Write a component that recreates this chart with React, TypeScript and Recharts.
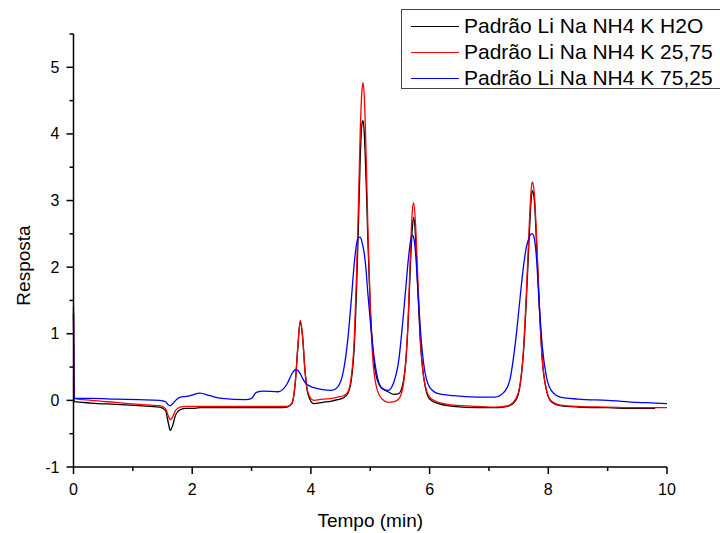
import { LineChart, Line, XAxis, YAxis, Legend } from 'recharts'

// tempo de retenção (min)
const tempo = [
  0, 0.01, 0.3, 0.7, 1.1, 1.45, 1.55, 1.6, 1.63, 1.67, 1.72, 1.8, 1.9, 2.0, 2.13, 2.3, 2.5, 2.9,
  3.0, 3.08, 3.2, 3.45, 3.6, 3.68, 3.74, 3.78, 3.82, 3.86, 3.9, 3.95, 4.05, 4.2, 4.35, 4.45,
  4.55, 4.62, 4.68, 4.73, 4.77, 4.8, 4.83, 4.86, 4.88, 4.9, 4.93, 4.96, 5.0, 5.05, 5.12, 5.2,
  5.3, 5.4, 5.48, 5.55, 5.6, 5.64, 5.68, 5.71, 5.73, 5.76, 5.8, 5.85, 5.9, 6.0, 6.15, 6.4,
  6.8, 7.1, 7.25, 7.35, 7.45, 7.52, 7.58, 7.63, 7.68, 7.71, 7.73, 7.76, 7.8, 7.85, 7.9, 7.97,
  8.05, 8.2, 8.5, 9.0, 9.5, 9.8, 10.0,
]

const h2o = [
  1.4, -0.02, -0.04, -0.06, -0.08, -0.1, -0.15, -0.35, -0.45, -0.38, -0.22, -0.14, -0.12, -0.12, -0.11, -0.11, -0.11, -0.11,
  -0.11, -0.11, -0.11, -0.11, -0.1, -0.05, 0.3, 0.8, 1.18, 0.95, 0.45, 0.1, -0.05, -0.03, -0.01, 0.01,
  0.04, 0.1, 0.3, 0.8, 1.7, 2.6, 3.6, 4.15, 4.2, 4.0, 3.3, 2.4, 1.4, 0.7, 0.3, 0.18,
  0.13, 0.09, 0.1, 0.25, 0.6, 1.2, 2.1, 2.6, 2.75, 2.5, 1.7, 0.8, 0.35, 0.02, -0.05, -0.09,
  -0.11, -0.11, -0.1, -0.08, 0.0, 0.2, 0.7, 1.5, 2.5, 3.0, 3.15, 3.05, 2.4, 1.4, 0.6, 0.15,
  -0.02, -0.08, -0.1, -0.11, -0.12, -0.12, null,
]

const p2575 = [
  1.3, 0.03, 0.0, -0.03, -0.06, -0.08, -0.12, -0.24, -0.29, -0.25, -0.15, -0.1, -0.09, -0.09, -0.09, -0.09, -0.09, -0.09,
  -0.09, -0.09, -0.09, -0.09, -0.09, -0.04, 0.3, 0.8, 1.2, 0.97, 0.45, 0.12, 0.0, 0.02, 0.03, 0.05,
  0.07, 0.12, 0.35, 0.9, 1.9, 2.9, 4.0, 4.65, 4.77, 4.55, 3.7, 2.6, 1.4, 0.55, 0.15, 0.02,
  -0.03, -0.02, 0.02, 0.2, 0.6, 1.25, 2.3, 2.85, 2.97, 2.7, 1.85, 0.85, 0.35, 0.05, -0.03, -0.07,
  -0.09, -0.1, -0.09, -0.07, 0.02, 0.22, 0.75, 1.6, 2.65, 3.15, 3.28, 3.15, 2.5, 1.4, 0.6, 0.15,
  -0.01, -0.07, -0.09, -0.1, -0.11, -0.11, -0.11,
]

const p7525 = [
  1.3, 0.03, 0.03, 0.02, 0.01, 0.0, -0.02, -0.07, -0.08, -0.05, 0.0, 0.05, 0.06, 0.08, 0.11, 0.07, 0.03, 0.01,
  0.03, 0.12, 0.14, 0.13, 0.25, 0.4, 0.46, 0.45, 0.4, 0.33, 0.27, 0.23, 0.19, 0.16, 0.15, 0.2,
  0.45, 0.9, 1.5, 2.05, 2.35, 2.44, 2.45, 2.38, 2.3, 2.2, 1.95, 1.6, 1.2, 0.75, 0.35, 0.18,
  0.15, 0.28, 0.6, 1.2, 1.7, 2.1, 2.4, 2.48, 2.45, 2.25, 1.7, 1.0, 0.55, 0.2, 0.1, 0.07,
  0.05, 0.05, 0.12, 0.3, 0.9, 1.5, 2.0, 2.3, 2.45, 2.5, 2.5, 2.45, 2.15, 1.4, 0.8, 0.35,
  0.15, 0.05, 0.02, 0.0, -0.03, -0.04, -0.05,
]

const seriesNames = ['Padrão Li Na NH4 K H2O', 'Padrão Li Na NH4 K 25,75', 'Padrão Li Na NH4 K 75,25']

const xTicks = [0, 1, 2, 3, 4, 5, 6, 7, 8, 9, 10]
const yTicks = [-1, -0.5, 0, 0.5, 1, 1.5, 2, 2.5, 3, 3.5, 4, 4.5, 5, 5.5]

const data = tempo.map((t, i) => ({ t, h2o: h2o[i], p2575: p2575[i], p7525: p7525[i] }))

const font = '"Liberation Sans", Arial, sans-serif'

function YTick({ x, y, payload }: any) {
  const major = Number.isInteger(payload.value)
  return (
    <g>
      <line x1={x} x2={x - (major ? 7 : 4)} y1={y} y2={y} stroke="#000" strokeWidth={1.5} />
      {major && (
        <text x={x - 14} y={y} dy={5.5} textAnchor="end" fontSize={16} fill="#000" fontFamily={font}>
          {payload.value}
        </text>
      )}
    </g>
  )
}

function XTick({ x, y, payload }: any) {
  const major = payload.value % 2 === 0
  return (
    <g>
      <line x1={x} x2={x} y1={y} y2={y + (major ? 7 : 4)} stroke="#000" strokeWidth={1.5} />
      {major && (
        <text x={x} y={y + 28} textAnchor="middle" fontSize={16} fill="#000" fontFamily={font}>
          {payload.value}
        </text>
      )}
    </g>
  )
}

function LegendBox({ payload }: any) {
  const items = [...(payload || [])].sort(
    (a: any, b: any) => seriesNames.indexOf(a.value) - seriesNames.indexOf(b.value)
  )
  return (
    <div
      style={{
        border: '1px solid #444',
        width: 340,
        height: 80,
        padding: '3px 0 0 9px',
        boxSizing: 'border-box',
        background: '#fff',
        fontFamily: font,
        fontSize: 21,
      }}
    >
      {items.map((p: any) => (
        <div key={p.value} style={{ display: 'flex', alignItems: 'center', height: 26 }}>
          <span style={{ display: 'inline-block', width: 48, borderTop: `1px solid ${p.color}`, marginRight: 5 }} />
          <span style={{ color: '#000', lineHeight: '26px' }}>{p.value}</span>
        </div>
      ))}
    </div>
  )
}

export default function App() {
  return (
    <div style={{ position: 'absolute', left: 0, top: 0, width: 720, height: 533, overflow: 'hidden', background: '#fff' }}>
      <LineChart width={720} height={533} data={data} margin={{ top: 34, right: 53, bottom: 0, left: 0 }}>
        <XAxis
          dataKey="t"
          type="number"
          domain={[0, 10]}
          ticks={xTicks}
          height={66}
          tickSize={0}
          tickMargin={0}
          tickLine={false}
          tick={XTick}
          axisLine={{ stroke: '#000', strokeWidth: 1.5 }}
          label={{
            content: ({ viewBox }: any) => (
              <text
                x={viewBox.x + viewBox.width / 2}
                y={viewBox.y + 60}
                textAnchor="middle"
                fontSize={19}
                fontFamily={font}
                fill="#000"
              >
                Tempo (min)
              </text>
            ),
          }}
        />
        <YAxis
          type="number"
          domain={[-1, 5.5]}
          ticks={yTicks}
          width={73.5}
          tickSize={0}
          tickMargin={0}
          tickLine={false}
          tick={YTick}
          allowDataOverflow
          axisLine={{ stroke: '#000', strokeWidth: 1.5 }}
          label={{
            content: ({ viewBox }: any) => {
              const cy = viewBox.y + viewBox.height / 2 + 15
              return (
                <text
                  x={30}
                  y={cy}
                  transform={`rotate(-90, 30, ${cy})`}
                  textAnchor="middle"
                  fontSize={19}
                  fontFamily={font}
                  fill="#000"
                >
                  Resposta
                </text>
              )
            },
          }}
        />
        <Legend
          layout="vertical"
          align="center"
          verticalAlign="middle"
          wrapperStyle={{ left: 401, top: 9, width: 340 }}
          content={LegendBox}
        />
        <Line type="monotone" dataKey="h2o" name={seriesNames[0]} stroke="#000000" strokeWidth={1.3} dot={false} isAnimationActive={false} />
        <Line type="monotone" dataKey="p2575" name={seriesNames[1]} stroke="#ff0000" strokeWidth={1.3} dot={false} isAnimationActive={false} />
        <Line type="monotone" dataKey="p7525" name={seriesNames[2]} stroke="#0000ff" strokeWidth={1.3} dot={false} isAnimationActive={false} />
      </LineChart>
    </div>
  )
}
